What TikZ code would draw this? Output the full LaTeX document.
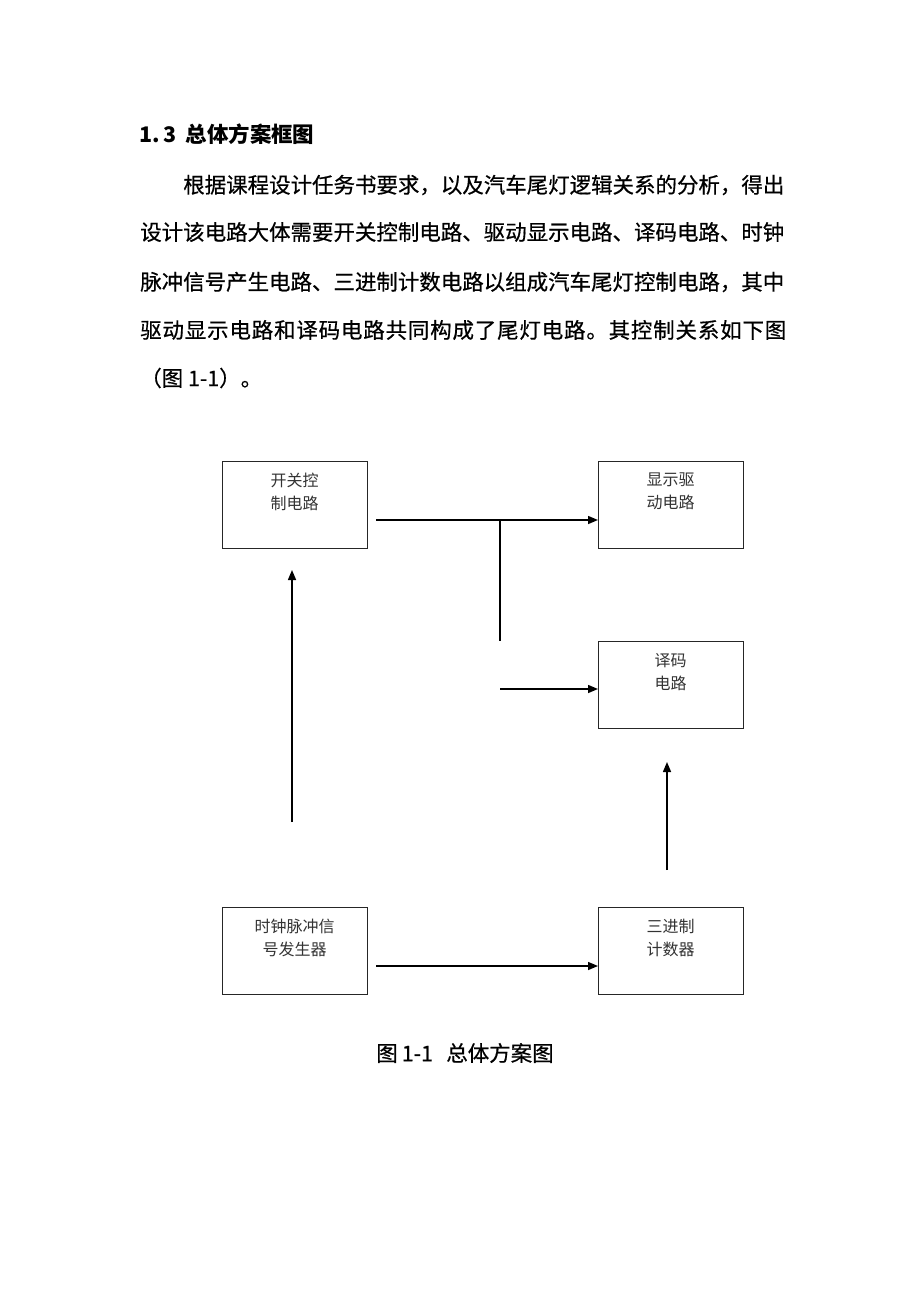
\documentclass[tikz,border=0pt]{standalone}
\usepackage{fontspec}
\setmainfont{Liberation Serif}
\newfontfamily\cjk{Noto Sans CJK SC}
\newfontfamily\cjkbody[FakeBold=0.6]{Noto Sans CJK SC}
\usetikzlibrary{arrows.meta}
\tikzset{
  box/.style={draw=black!85, line width=0.9pt, minimum width=108.75pt, minimum height=65.25pt, inner sep=0pt, anchor=north west},
  boxtext/.style={font=\cjk\fontsize{12pt}{17.25pt}\selectfont, text=black!80, align=center, inner sep=0pt},
  para/.style={font=\cjkbody\fontsize{16.1pt}{20pt}\selectfont, anchor=west, inner sep=0pt},
  conn/.style={line width=1.1pt, black},
  arr/.style={conn, -{Triangle[length=7.5pt,width=6pt]}}
}
\begin{document}
\begin{tikzpicture}[x=0.75pt,y=-0.75pt]
\useasboundingbox[fill=white] (0,0) rectangle (920,1302);
% heading and paragraph
\node[para, font=\cjk\bfseries\fontsize{16.1pt}{20pt}\selectfont] (h) at (139,134) {1.\hspace{2.5pt}3\hspace{7pt}总体方案框图};
\node[para] (l1) at (183,185) {根据课程设计任务书要求，以及汽车尾灯逻辑关系的分析，得出};
\node[para] (l2) at (140,232) {设计该电路大体需要开关控制电路、驱动显示电路、译码电路、时钟};
\node[para] (l3) at (140,282) {脉冲信号产生电路、三进制计数电路以组成汽车尾灯控制电路，其中};
\node[para] (l4) at (140,330) {\makebox[484.5pt][l]{驱\hfill 动\hfill 显\hfill 示\hfill 电\hfill 路\hfill 和\hfill 译\hfill 码\hfill 电\hfill 路\hfill 共\hfill 同\hfill 构\hfill 成\hfill 了\hfill 尾\hfill 灯\hfill 电\hfill 路\hfill 。\hfill 其\hfill 控\hfill 制\hfill 关\hfill 系\hfill 如\hfill 下\hfill 图}};
\node[para] (l5) at (140,378) {（图 1-1）。};
% boxes
\node[box] (A) at (222,461) {};
\node[boxtext] (At) at (294.5,491.5) {开关控\\制电路};
\node[box] (D) at (598,461) {};
\node[boxtext] (Dt) at (670.5,491.5) {显示驱\\动电路};
\node[box] (C) at (598,641) {};
\node[boxtext] (Ct) at (670.5,672) {译码\\电路};
\node[box] (K) at (222,907) {};
\node[boxtext] (Kt) at (294.5,937.5) {时钟脉冲信\\号发生器};
\node[box] (T) at (598,907) {};
\node[boxtext] (Tt) at (670.5,937.5) {三进制\\计数器};
% connectors
\coordinate (a1) at (376,520);
\coordinate (j) at (500,520);
\coordinate (jb) at (500,641);
\coordinate (c1) at (500,689);
\coordinate (u1) at (292,822);
\coordinate (u2) at (292,570);
\coordinate (k1) at (376,966);
\coordinate (t1) at (667,870);
\coordinate (t2) at (667,762);
\draw[arr] (a1) -- (D.west |- a1);
\draw[conn] (j) -- (jb);
\draw[arr] (c1) -- (C.west |- c1);
\draw[arr] (u1) -- (u2);
\draw[arr] (k1) -- (T.west |- k1);
\draw[arr] (t1) -- (t2);
% caption
\node[para] (cap) at (376,1053) {图\hspace{3pt}1-1\hspace{10pt}总体方案图};
\end{tikzpicture}
\end{document}
